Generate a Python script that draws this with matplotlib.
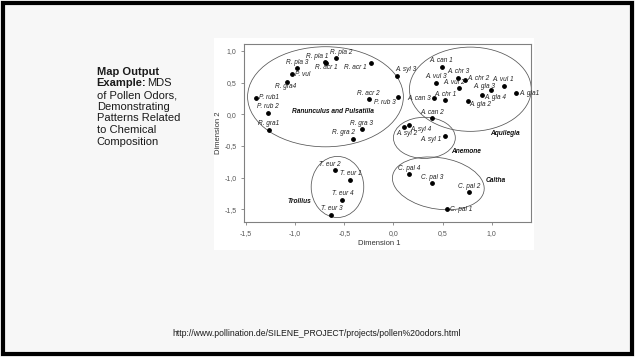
import numpy as np
import matplotlib.pyplot as plt
from matplotlib.patches import Ellipse, Rectangle

plt.rcParams['font.family'] = ['Liberation Sans', 'DejaVu Sans']

# MDS coordinates
names = ['P. rub1', 'P. rub 2', 'R. gra1', 'R. gra4', 'P. vul', 'R. pla 3', 'R. pla 1',
         'R. acr 1', 'R. pla 2', 'R. acr 1', 'A. syl 3', 'R. acr 2', 'P. rub 3', 'R. gra 3',
         'R. gra 2',
         'A. can 1', 'A. chr 3', 'A. vul 3', 'A. chr 2', 'A. vul 2', 'A. vul 1', 'A. gla 3',
         'A. gla1', 'A. gla 4', 'A. gla 2', 'A. chr 1', 'A. can 3', 'A. can 2',
         'A. syl 4', 'A. syl 2', 'A. syl 1',
         'T. eur 2', 'T. eur 1', 'T. eur 4', 'T. eur 3',
         'C. pal 4', 'C. pal 3', 'C. pal 2', 'C. pal 1']
dim1 = [-1.395, -1.273, -1.267, -1.087, -1.033, -0.982, -0.694,
        -0.690, -0.583, -0.227, 0.041, -0.251, 0.051, -0.322,
        -0.410,
        0.491, 0.661, 0.430, 0.725, 0.671, 1.121, 0.996,
        1.250, 0.898, 0.759, 0.528, 0.417, 0.393,
        0.159, 0.105, 0.525,
        -0.596, -0.437, -0.518, -0.630,
        0.163, 0.396, 0.772, 0.542]
dim2 = [0.264, 0.027, -0.242, 0.506, 0.633, 0.728, 0.823,
        0.815, 0.891, 0.807, 0.601, 0.237, 0.269, -0.237,
        -0.385,
        0.748, 0.575, 0.501, 0.548, 0.417, 0.448, 0.390,
        0.330, 0.311, 0.211, 0.222, 0.253, -0.063,
        -0.169, -0.200, -0.337,
        -0.886, -1.034, -1.350, -1.582,
        -0.944, -1.087, -1.229, -1.498]

# label placement around each point: (dx px, dy px, ha)
A, R, L = (0, 6, 'center'), (3, 0, 'left'), (-3, 0, 'right')
label_pos = [R, A, A, (-1, -4, 'center'), R, A, (-8, 6, 'center'),
             (1, -5, 'center'), (5, 5, 'center'), (-4, -4, 'right'), (-2, 7, 'left'), A, (-3, -5, 'right'), A,
             (2, 6, 'right'),
             A, A, A, (3, 1, 'left'), (-5, 5, 'center'), A, (4, 3, 'right'),
             R, (3, -3, 'left'), (1, -4, 'left'), A, L, A,
             (1, -4, 'left'), (3, -7, 'center'), (-3, -4, 'right'),
             (-5, 6, 'center'), A, A, A,
             A, A, A, R]

groups = ['Ranunculus and Pulsatilla', 'Aquilegia', 'Anemone', 'Caltha', 'Trollius']
group_x = [-0.62, 1.14, 0.74, 1.04, -0.955]
group_y = [0.052, -0.30, -0.585, -1.044, -1.377]

# ellipses: centre, width, height, angle (data units)
ell_cx = [-0.691, 0.783, 0.315, 0.457, -0.569]
ell_cy = [0.277, 0.396, -0.372, -1.090, -1.147]
ell_w = [1.585, 1.24, 0.63, 0.98, 0.535]
ell_h = [1.58, 1.33, 0.65, 0.78, 0.965]
ell_ang = [0, 0, 0, -30, 0]

xticks = [-1.5, -1.0, -0.5, 0.0, 0.5, 1.0]
yticks = [-1.5, -1.0, -0.5, 0.0, 0.5, 1.0]

W, H = 635, 357
fig = plt.figure(figsize=(6.35, 3.57), dpi=100, facecolor='#f7f7f7')

# outer frame and white chart panel (behind the axes)
fig.patches.append(Rectangle((0.005, 0.008), 0.99, 0.984, transform=fig.transFigure,
                             fill=False, edgecolor='black', linewidth=3, zorder=-2))
fig.patches.append(Rectangle((214 / W, 1 - 250 / H), 320 / W, 212 / H, transform=fig.transFigure,
                             facecolor='white', edgecolor='none', zorder=-1))

ax = fig.add_axes([244 / W, 1 - 222 / H, 287 / W, 178 / H])
ax.set_xlim(-1.52, 1.40)
ax.set_ylim(-1.70, 1.11)
for s in ax.spines.values():
    s.set_color('#808080')
    s.set_linewidth(0.8)

ax.scatter(dim1, dim2, s=6, color='black', zorder=3)
px2pt = 72 / 100
for n, x, y, (dx, dy, ha) in zip(names, dim1, dim2, label_pos):
    ax.annotate(n, (x, y), xytext=(dx * px2pt, dy * px2pt), textcoords='offset points',
                ha=ha, va='center', fontsize=4.7, style='italic', color='#222222')

for cx, cy, w, h, a in zip(ell_cx, ell_cy, ell_w, ell_h, ell_ang):
    ax.add_patch(Ellipse((cx, cy), w, h, angle=a, fill=False, edgecolor='#555555', linewidth=0.55))

for g, x, y in zip(groups, group_x, group_y):
    ax.text(x, y, g, ha='center', va='center', fontsize=4.8, style='italic',
            fontweight='bold', color='#111111')

ax.set_xticks(xticks)
ax.set_yticks(yticks)
ax.set_xticklabels([f'{t:.1f}'.replace('.', ',') for t in xticks])
ax.set_yticklabels([f'{t:.1f}'.replace('.', ',') for t in yticks])
ax.tick_params(labelsize=5, colors='#808080', labelcolor='#555555', length=2, width=0.6)
ax.set_xlabel('Dimension 1', fontsize=5.5, color='#333333')
ax.set_ylabel('Dimension 2', fontsize=5.5, color='#333333')
ax.xaxis.set_label_coords(0.47, -0.1)
ax.yaxis.set_label_coords(-0.075, 0.5)

# slide text on the left
lines = ['Map Output', None, 'of Pollen Odors,', 'Demonstrating', 'Patterns Related',
         'to Chemical', 'Composition']
for i, t in enumerate(lines):
    yy = 1 - (71.7 + 11.7 * i) / H
    if t is None:
        fig.text(96.7 / W, yy, 'Example:', fontsize=8, fontweight='bold', va='center', color='#1a1a1a')
        fig.text(146.7 / W, yy, 'MDS', fontsize=8, va='center', color='#1a1a1a')
    else:
        fig.text(96.7 / W, yy, t, fontsize=8, fontweight='bold' if i == 0 else 'normal',
                 va='center', color='#1a1a1a')

fig.text(316.7 / W, 1 - 333 / H, 'http://www.pollination.de/SILENE_PROJECT/projects/pollen%20odors.html',
         fontsize=6.2, ha='center', va='center', color='#1a1a1a')

fig.savefig('out.png', dpi=100, facecolor=fig.get_facecolor())
